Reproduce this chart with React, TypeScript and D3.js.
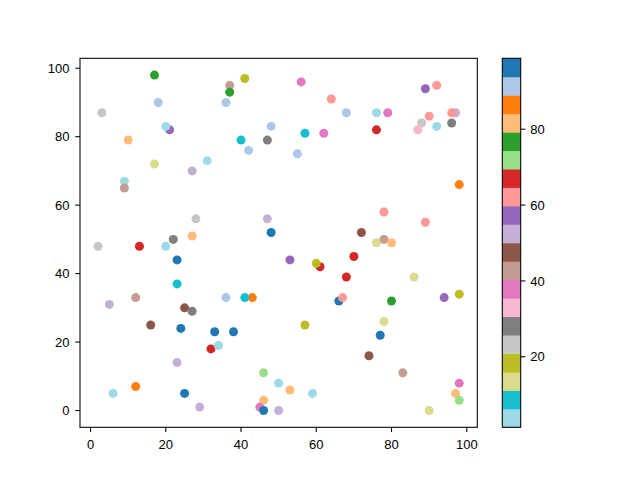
import React from 'react';
import * as d3 from 'd3';

// point positions and colour values
const xs = [3, 17, 18, 10, 21, 20, 17, 9, 9, 27, 31, 37, 37, 41, 36, 40, 42, 47, 48, 28, 47, 48, 22, 27,
  56, 64, 68, 76, 79, 76, 57, 62, 55, 89, 92, 90, 88, 87, 92, 97, 96, 96, 98, 78, 89, 72,
  2, 13, 20, 23, 23, 5, 12, 25, 27, 16, 24, 33, 38, 32, 34, 36, 43, 41, 23, 12, 6, 25, 29, 46, 50, 46, 45, 46, 50,
  76, 78, 80, 53, 61, 60, 70, 68, 86, 66, 67, 80, 94, 98, 57, 78, 77, 74, 83, 53, 59, 90, 98, 97, 98];
const ys = [87, 98, 90, 79, 82, 83, 72, 67, 65, 70, 73, 95, 93, 97, 90, 79, 76, 79, 83, 56, 56, 52, 50, 51,
  96, 91, 87, 87, 87, 82, 81, 81, 75, 94, 95, 86, 84, 82, 83, 87, 87, 84, 66, 58, 55, 52,
  48, 48, 48, 44, 37, 31, 33, 30, 29, 25, 24, 23, 23, 18, 19, 33, 33, 33, 14, 7, 5, 5, 1, 11, 8, 3, 1, 0, 0,
  49, 50, 49, 44, 42, 43, 45, 39, 39, 32, 33, 32, 33, 34, 25, 26, 22, 16, 11, 6, 5, 0, 8, 5, 3];
const cs = [23, 77, 91, 82, 57, 4, 14, 4, 43, 52, 4, 43, 77, 18, 91, 9, 91, 28, 91, 23, 52, 96, 28, 82,
  38, 62, 91, 4, 38, 67, 9, 38, 91, 57, 62, 62, 23, 33, 4, 52, 62, 28, 87, 62, 62, 48,
  23, 67, 4, 96, 9, 52, 43, 48, 28, 48, 96, 96, 96, 67, 4, 91, 87, 9, 52, 87, 4, 96, 52, 72, 4, 82, 38, 96, 52,
  14, 43, 82, 57, 67, 18, 67, 67, 14, 96, 62, 77, 57, 18, 18, 14, 96, 48, 43, 82, 4, 14, 38, 82, 72];

const cMin = 1.4;
const cMax = 98.7;
const cbTicks = [20, 40, 60, 80];

const tab20 = ['#1f77b4', '#aec7e8', '#ff7f0e', '#ffbb78', '#2ca02c', '#98df8a', '#d62728', '#ff9896',
  '#9467bd', '#c5b0d5', '#8c564b', '#c49c94', '#e377c2', '#f7b6d2', '#7f7f7f', '#c7c7c7',
  '#bcbd22', '#dbdb8d', '#17becf', '#9edae5'];

const font = '"Liberation Sans", Arial, sans-serif';

export default function App() {
  const W = 640, H = 480;
  const left = 80, right = 477.3, top = 58.3, bottom = 427.3;
  const cbL = 502.3, cbR = 520.7;
  const tick = 4.67;

  const [x0, x1] = d3.extent(xs) as [number, number];
  const [y0, y1] = d3.extent(ys) as [number, number];
  const px = (x1 - x0) * 0.05, py = (y1 - y0) * 0.05;

  const x = d3.scaleLinear().domain([x0 - px, x1 + px]).range([left, right]);
  const y = d3.scaleLinear().domain([y0 - py, y1 + py]).range([bottom, top]);
  const color = d3.scaleQuantize<string>().domain([cMin, cMax]).range(tab20.slice().reverse());
  const cy = d3.scaleLinear().domain([cMin, cMax]).range([bottom, top]);

  const step = (cMax - cMin) / 20;
  const bins = d3.range(20).map(i => cMin + i * step);

  return (
    <svg width={W} height={H} style={{ position: 'absolute', left: 0, top: 0, background: '#fff' }}
      fontFamily={font} fontSize={13}>
      <rect width={W} height={H} fill="#fff" />

      {/* points */}
      {xs.map((d, i) => (
        <circle key={i} cx={x(d)} cy={y(ys[i])} r={4.5} fill={color(cs[i])} />
      ))}

      {/* axes frame */}
      <rect x={left} y={top} width={right - left} height={bottom - top} fill="none" stroke="#000" strokeWidth={1.07} />

      {x.ticks(5).map(t => (
        <g key={'x' + t} transform={`translate(${x(t)},${bottom})`}>
          <line y2={tick} stroke="#000" strokeWidth={1.07} />
          <text y={21.5} textAnchor="middle">{t}</text>
        </g>
      ))}
      {y.ticks(5).map(t => (
        <g key={'y' + t} transform={`translate(${left},${y(t)})`}>
          <line x2={-tick} stroke="#000" strokeWidth={1.07} />
          <text x={-10.5} dy="0.36em" textAnchor="end">{t}</text>
        </g>
      ))}

      {/* colorbar */}
      {bins.map((b, i) => (
        <rect key={'cb' + i} x={cbL} width={cbR - cbL} y={cy(b + step)} height={cy(b) - cy(b + step) + 0.5}
          fill={color(b + step / 2)} />
      ))}
      <rect x={cbL} y={top} width={cbR - cbL} height={bottom - top} fill="none" stroke="#000" strokeWidth={1.07} />
      {cbTicks.map(t => (
        <g key={'c' + t} transform={`translate(${cbR},${cy(t)})`}>
          <line x2={tick} stroke="#000" strokeWidth={1.07} />
          <text x={9.5} dy="0.36em" textAnchor="start">{t}</text>
        </g>
      ))}
    </svg>
  );
}
